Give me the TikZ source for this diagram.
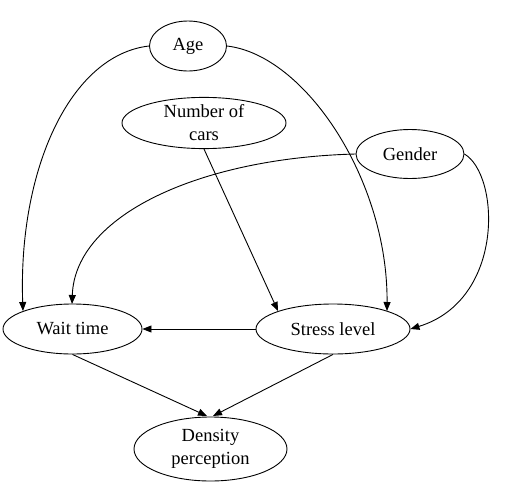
\documentclass[tikz,border=0pt]{standalone}
\usepackage{fontspec}
\setmainfont{Liberation Serif}
\usetikzlibrary{shapes.geometric,arrows.meta}
\begin{document}
\begin{tikzpicture}[x=1pt,y=-1pt,
  ell/.style={draw,ellipse,inner sep=0pt,line width=0.9pt,align=center,
    font=\fontsize{18.5}{23}\selectfont},
  conn/.style={line width=0.9pt,-{Triangle[length=9pt,width=7pt]}}]
\useasboundingbox (0,0) rectangle (506,488);
\node[ell,minimum width=77pt,minimum height=50pt] (age) at (188,46) {Age};
\node[ell,minimum width=164pt,minimum height=48pt] (cars) at (204,123) {Number of\\cars};
\node[ell,minimum width=108pt,minimum height=49pt] (gender) at (410,154) {Gender};
\node[ell,minimum width=139pt,minimum height=50pt] (wait) at (72.5,329) {Wait time};
\node[ell,minimum width=154pt,minimum height=50pt] (stress) at (333,329) {Stress level};
\node[ell,minimum width=153pt,minimum height=64pt] (dens) at (210.5,449) {Density\\perception};
\coordinate (waitA) at (23,311);
\coordinate (waitG) at (72,304);
\coordinate (stressA) at (387,311);
\coordinate (stressC) at (278,311);
\coordinate (densW) at (207,416);
\coordinate (densS) at (213,416);
\draw[conn] (age.west) .. controls (70,55) and (18,170) .. (waitA);
\draw[conn] (age.east) .. controls (305,55) and (388,180) .. (stressA);
\draw[conn] (cars.south) -- (stressC);
\draw[conn] (gender.west) .. controls (200,158) and (75,215) .. (waitG);
\draw[conn] (gender.east) .. controls (500,175) and (505,300) .. (stress.east);
\draw[conn] (stress) -- (wait);
\draw[conn] (wait.south) -- (densW);
\draw[conn] (stress.south) -- (densS);
\end{tikzpicture}
\end{document}
